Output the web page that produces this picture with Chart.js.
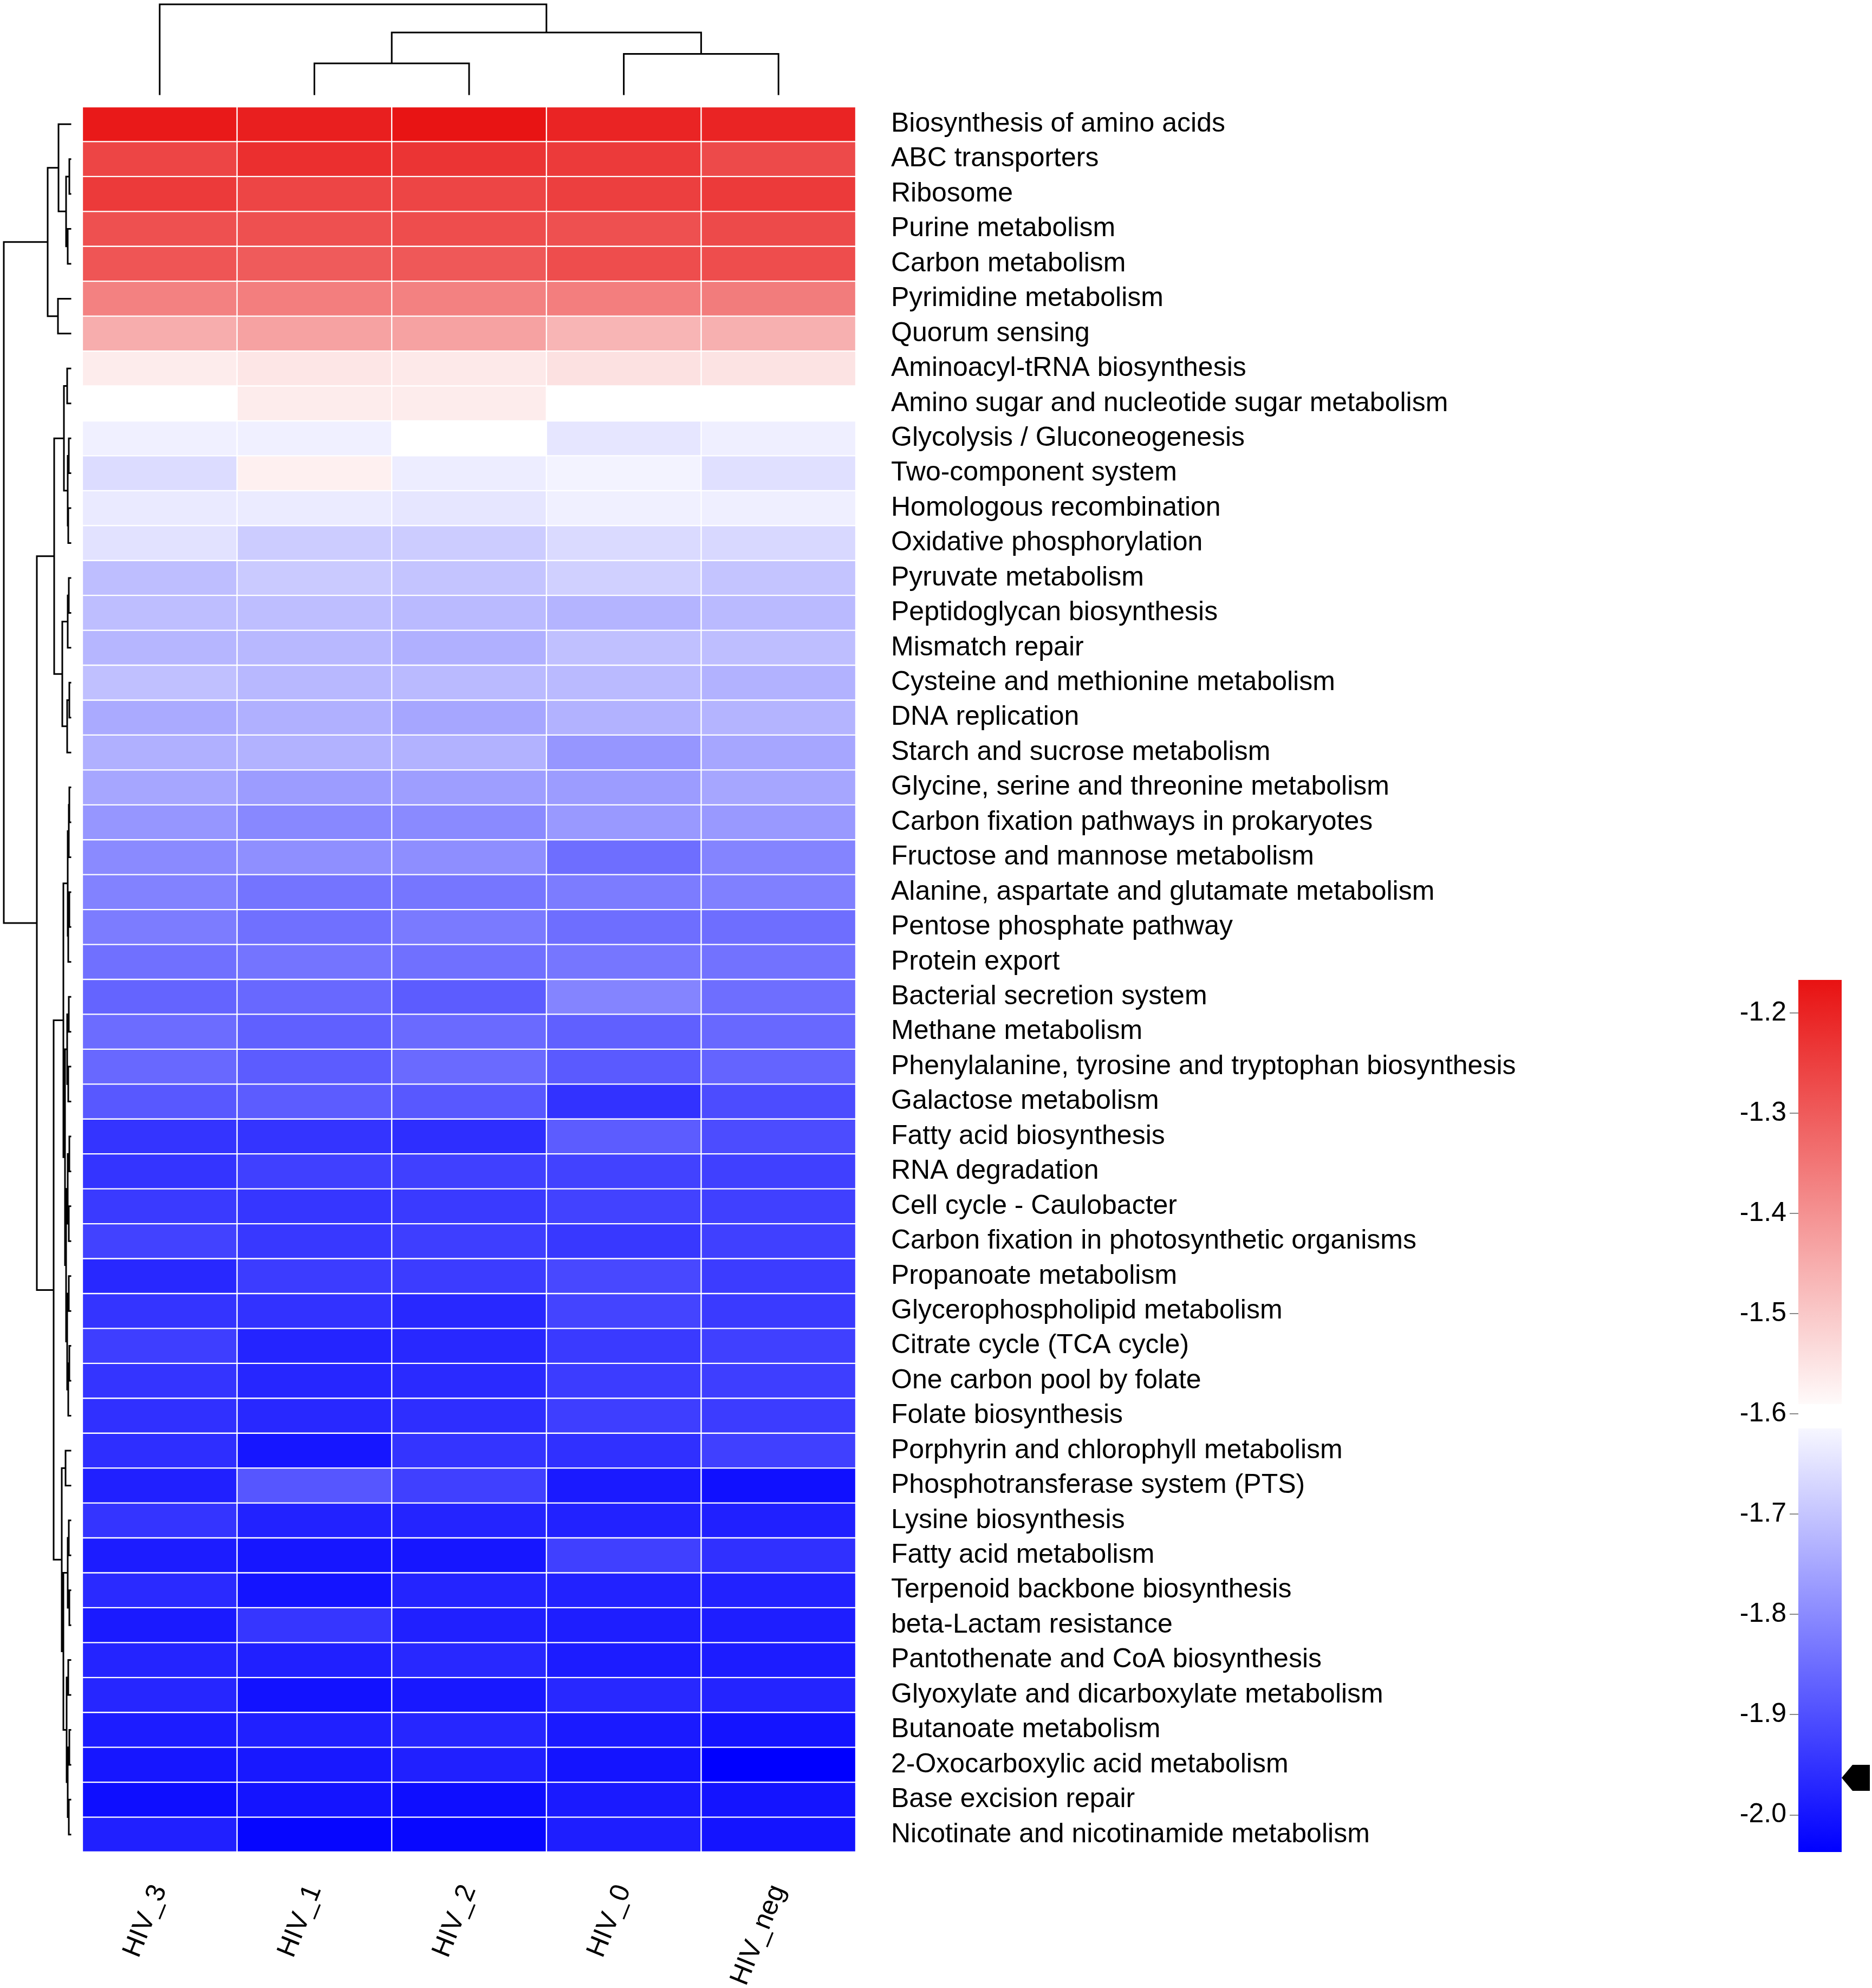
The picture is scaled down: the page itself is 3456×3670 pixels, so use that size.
<!DOCTYPE html>
<html>
<head>
<meta charset="utf-8">
<script src="https://cdn.jsdelivr.net/npm/chart.js@4.4.1/dist/chart.umd.min.js"></script>
<style>
  html, body { margin: 0; padding: 0; background: #fff; }
  #page { position: relative; width: 3456px; height: 3670px; background: #fff; }
  #heat { position: absolute; left: 0; top: 0; width: 3100px; height: 3670px; }
  #bar { position: absolute; left: 3150px; top: 1700px; width: 306px; height: 1770px; }
</style>
</head>
<body>
<div id="page">
  <canvas id="heat" width="3100" height="3670"></canvas>
  <canvas id="bar" width="306" height="1770"></canvas>
</div>
<script>
// rows (top to bottom) and columns (left to right), in dendrogram order
const pathways = [
	"Biosynthesis of amino acids", "ABC transporters", "Ribosome", "Purine metabolism",
	"Carbon metabolism", "Pyrimidine metabolism", "Quorum sensing", "Aminoacyl-tRNA biosynthesis",
	"Amino sugar and nucleotide sugar metabolism", "Glycolysis / Gluconeogenesis", "Two-component system",
	"Homologous recombination", "Oxidative phosphorylation", "Pyruvate metabolism", "Peptidoglycan biosynthesis",
	"Mismatch repair", "Cysteine and methionine metabolism", "DNA replication", "Starch and sucrose metabolism",
	"Glycine, serine and threonine metabolism", "Carbon fixation pathways in prokaryotes",
	"Fructose and mannose metabolism", "Alanine, aspartate and glutamate metabolism", "Pentose phosphate pathway",
	"Protein export", "Bacterial secretion system", "Methane metabolism",
	"Phenylalanine, tyrosine and tryptophan biosynthesis", "Galactose metabolism", "Fatty acid biosynthesis",
	"RNA degradation", "Cell cycle - Caulobacter", "Carbon fixation in photosynthetic organisms",
	"Propanoate metabolism", "Glycerophospholipid metabolism", "Citrate cycle (TCA cycle)",
	"One carbon pool by folate", "Folate biosynthesis", "Porphyrin and chlorophyll metabolism",
	"Phosphotransferase system (PTS)", "Lysine biosynthesis", "Fatty acid metabolism",
	"Terpenoid backbone biosynthesis", "beta-Lactam resistance", "Pantothenate and CoA biosynthesis",
	"Glyoxylate and dicarboxylate metabolism", "Butanoate metabolism", "2-Oxocarboxylic acid metabolism",
	"Base excision repair", "Nicotinate and nicotinamide metabolism"
];
const samples = ["HIV_3", "HIV_1", "HIV_2", "HIV_0", "HIV_neg"];

// cell values per sample, one per pathway
const hiv3 = [-1.18, -1.26, -1.24, -1.28, -1.29, -1.37, -1.45, -1.565, -1.60, -1.625,
	-1.66, -1.636, -1.65, -1.711, -1.711, -1.725, -1.708, -1.746, -1.735, -1.752,
	-1.78, -1.80, -1.814, -1.825, -1.845, -1.866, -1.852, -1.859, -1.886, -1.948,
	-1.948, -1.938, -1.924, -1.968, -1.948, -1.930, -1.948, -1.955, -1.958, -1.982,
	-1.948, -1.989, -1.965, -1.992, -1.975, -1.972, -1.989, -1.999, -2.013, -1.982];
const hiv1 = [-1.19, -1.22, -1.26, -1.28, -1.30, -1.365, -1.43, -1.555, -1.565, -1.625,
	-1.573, -1.635, -1.687, -1.691, -1.711, -1.722, -1.722, -1.735, -1.732, -1.77,
	-1.804, -1.792, -1.838, -1.845, -1.838, -1.859, -1.873, -1.879, -1.879, -1.948,
	-1.927, -1.944, -1.941, -1.934, -1.951, -1.975, -1.972, -1.968, -1.999, -1.890,
	-1.979, -1.999, -2.003, -1.944, -1.982, -2.006, -1.982, -1.996, -2.003, -2.027];
const hiv2 = [-1.17, -1.23, -1.26, -1.275, -1.295, -1.37, -1.43, -1.56, -1.565, -1.60,
	-1.63, -1.643, -1.687, -1.701, -1.718, -1.735, -1.718, -1.752, -1.732, -1.766,
	-1.80, -1.794, -1.835, -1.828, -1.845, -1.879, -1.855, -1.855, -1.886, -1.958,
	-1.927, -1.938, -1.930, -1.934, -1.968, -1.968, -1.965, -1.958, -1.948, -1.927,
	-1.975, -1.999, -1.975, -1.982, -1.968, -1.996, -1.972, -1.982, -2.013, -2.023];
const hiv0 = [-1.20, -1.24, -1.25, -1.28, -1.275, -1.365, -1.465, -1.545, -1.60, -1.643,
	-1.62, -1.626, -1.663, -1.681, -1.728, -1.708, -1.718, -1.732, -1.78, -1.77,
	-1.775, -1.849, -1.825, -1.849, -1.835, -1.811, -1.873, -1.883, -1.951, -1.879,
	-1.924, -1.924, -1.941, -1.914, -1.920, -1.938, -1.934, -1.930, -1.955, -1.992,
	-1.979, -1.927, -1.979, -1.986, -1.989, -1.968, -1.992, -2.003, -1.992, -1.986];
const hivNeg = [-1.20, -1.27, -1.24, -1.27, -1.275, -1.36, -1.455, -1.548, -1.60, -1.627,
	-1.653, -1.628, -1.667, -1.701, -1.718, -1.711, -1.732, -1.728, -1.752, -1.752,
	-1.775, -1.811, -1.818, -1.849, -1.842, -1.849, -1.859, -1.866, -1.907, -1.907,
	-1.927, -1.927, -1.927, -1.934, -1.938, -1.927, -1.930, -1.934, -1.927, -2.010,
	-1.982, -1.955, -1.979, -1.986, -1.989, -1.975, -2.003, -2.037, -2.003, -2.003];
const sampleValues = [hiv3, hiv1, hiv2, hiv0, hivNeg];

// colour scale
const scaleMin = -2.037;
const scaleMid = -1.6;
const scaleMax = -1.167;
const scaleTicks = [-1.2, -1.3, -1.4, -1.5, -1.6, -1.7, -1.8, -1.9, -2.0];
const scaleGap = [-1.6146, -1.590];
const scaleMarker = -1.963;

// dendrograms: [height, left, right], leaves are row / column indices
const colTree = [166, 0, [114, [57, 1, 2], [74.5, 3, 4]]];
const rowTree = [123,
	[42, [22, 0, [8, [2, 1, 2], [5, 3, 4]]], [23, 5, 6]],
	[62,
		[30,
			[12, [6, 7, 8], [5, [3, 9, 10], [4, 11, 12]]],
			[15, [5, [3, 13, 14], 15], [6, [2, 16, 17], 18]]],
		[31,
			[13,
				[5, [3, [2, 19, 20], 21], [4, [2, 22, 23], 24]],
				[10, [6, [3, 25, 26], [4, 27, 28]],
					[8, [5, [2, 29, 30], [3, 31, 32]], [6, [3, 33, 34], [4, [2, 35, 36], 37]]]]],
			[16, [9, 38, 39],
				[13, [5, [3, 40, 41], [2, 42, 43]], [7, [4, 44, 45], [5, [2, 46, 47], [3, 48, 49]]]]]]]];

const FONT = "'Liberation Sans', Arial, Helvetica, sans-serif";
const RED = [232, 18, 18];

const colorFor = (v) => {
	if (v <= scaleMid) {
		const t = Math.max(0, Math.min(1, (v - scaleMin) / (scaleMid - scaleMin)));
		const c = Math.round(255 * t);
		return `rgb(${c},${c},255)`;
	}
	const s = Math.max(0, Math.min(1, (v - scaleMid) / (scaleMax - scaleMid)));
	const r = Math.round(255 + (RED[0] - 255) * s);
	const g = Math.round(255 + (RED[1] - 255) * s);
	return `rgb(${r},${g},${g})`;
};

// collect the elbow segments of a tree as [pos0, h0, pos1, h1]
function treeSegments(node, leafPos, out) {
	if (typeof node === "number") return { pos: leafPos(node), h: 0 };
	const a = treeSegments(node[1], leafPos, out);
	const b = treeSegments(node[2], leafPos, out);
	const h = node[0];
	out.push([a.pos, a.h, a.pos, h], [a.pos, h, b.pos, h], [b.pos, h, b.pos, b.h]);
	return { pos: (a.pos + b.pos) / 2, h };
}

const dendroPlugin = {
	id: "dendro",
	afterDraw(chart) {
		const { ctx, chartArea, scales } = chart;
		ctx.save();
		ctx.strokeStyle = "#000";
		ctx.lineWidth = 3;
		ctx.lineCap = "square";

		// row dendrogram, left of the heatmap
		const rowLeaf = chartArea.left - 22;
		const rowRoot = 7;
		const rowX = (h) => rowLeaf - (h / rowTree[0]) * (rowLeaf - rowRoot);
		const rowSegs = [];
		treeSegments(rowTree, (i) => scales.y.getPixelForValue(i), rowSegs);
		ctx.beginPath();
		rowSegs.forEach(([p0, h0, p1, h1]) => {
			ctx.moveTo(rowX(h0), p0);
			ctx.lineTo(rowX(h1), p1);
		});
		ctx.stroke();

		// column dendrogram, above the heatmap
		const colLeaf = chartArea.top - 23;
		const colRoot = 8;
		const colY = (h) => colLeaf - (h / colTree[0]) * (colLeaf - colRoot);
		const colSegs = [];
		treeSegments(colTree, (j) => scales.x.getPixelForValue(j + 0.5), colSegs);
		ctx.beginPath();
		colSegs.forEach(([p0, h0, p1, h1]) => {
			ctx.moveTo(p0, colY(h0));
			ctx.lineTo(p1, colY(h1));
		});
		ctx.stroke();
		ctx.restore();
	},
};

new Chart(document.getElementById("heat"), {
	type: "bar",
	data: {
		labels: pathways,
		datasets: samples.map((name, j) => ({
			label: name,
			data: pathways.map(() => 1),
			backgroundColor: sampleValues[j].map(colorFor),
			borderColor: "#ffffff",
			borderWidth: 1.5,
			borderSkipped: false,
			barPercentage: 1,
			categoryPercentage: 1,
		})),
	},
	options: {
		indexAxis: "y",
		responsive: false,
		animation: false,
		devicePixelRatio: 1,
		layout: { padding: { left: 152, top: 197, right: 0, bottom: 0 } },
		plugins: { legend: { display: false }, tooltip: { enabled: false } },
		scales: {
			x: {
				type: "linear",
				stacked: true,
				min: 0,
				max: samples.length,
				grid: { display: false, drawTicks: false },
				border: { display: false },
				afterBuildTicks: (scale) => {
					scale.ticks = samples.map((s, j) => ({ value: j + 0.5 }));
				},
				afterFit: (scale) => {
					scale.height = 251;
				},
				ticks: {
					autoSkip: false,
					minRotation: 68,
					maxRotation: 68,
					padding: 52,
					color: "#000",
					font: { family: FONT, size: 50 },
					callback: (v) => samples[Math.floor(v)],
				},
			},
			y: {
				position: "right",
				stacked: true,
				grid: { display: false, drawTicks: false },
				border: { display: false },
				afterFit: (scale) => {
					scale.width = 1520;
				},
				ticks: {
					autoSkip: false,
					padding: 65,
					color: "#000",
					font: { family: FONT, size: 50 },
				},
			},
		},
	},
	plugins: [dendroPlugin],
});

// colour bar
const gradientFill = (ctx, from, to, c0, c1) => {
	const { chart } = ctx;
	const y = chart.scales.y;
	if (!chart.chartArea) return c1;
	const g = chart.ctx.createLinearGradient(0, y.getPixelForValue(from), 0, y.getPixelForValue(to));
	g.addColorStop(0, c0);
	g.addColorStop(1, c1);
	return g;
};

const markerPlugin = {
	id: "marker",
	afterDraw(chart) {
		const { ctx, chartArea, scales } = chart;
		const y = scales.y.getPixelForValue(scaleMarker);
		const x = chartArea.right;
		ctx.save();
		ctx.fillStyle = "#000";
		ctx.beginPath();
		ctx.moveTo(x, y);
		ctx.lineTo(x + 20, y - 24);
		ctx.lineTo(x + 52, y - 24);
		ctx.lineTo(x + 52, y + 24);
		ctx.lineTo(x + 20, y + 24);
		ctx.closePath();
		ctx.fill();
		ctx.restore();
	},
};

new Chart(document.getElementById("bar"), {
	type: "bar",
	data: {
		labels: [""],
		datasets: [
			{
				data: [[scaleMin, scaleGap[0]]],
				backgroundColor: (ctx) => gradientFill(ctx, scaleMin, scaleMid, colorFor(scaleMin), colorFor(scaleMid)),
				grouped: false,
				barPercentage: 1,
				categoryPercentage: 1,
			},
			{
				data: [[scaleGap[1], scaleMax]],
				backgroundColor: (ctx) => gradientFill(ctx, scaleMid, scaleMax, colorFor(scaleMid), colorFor(scaleMax)),
				grouped: false,
				barPercentage: 1,
				categoryPercentage: 1,
			},
		],
	},
	options: {
		responsive: false,
		animation: false,
		devicePixelRatio: 1,
		layout: { padding: { left: 0, top: 109, right: 56, bottom: 51 } },
		plugins: { legend: { display: false }, tooltip: { enabled: false } },
		scales: {
			x: { display: false },
			y: {
				position: "left",
				min: scaleMin,
				max: scaleMax,
				afterBuildTicks: (scale) => {
					scale.ticks = scaleTicks.map((v) => ({ value: v }));
				},
				afterFit: (scale) => {
					scale.width = 170;
				},
				grid: { drawOnChartArea: false, drawTicks: true, tickLength: 16, color: "#888", lineWidth: 2 },
				border: { display: false },
				ticks: {
					padding: 6,
					color: "#000",
					font: { family: FONT, size: 50 },
					callback: (v) => Number(v).toFixed(1),
				},
			},
		},
	},
	plugins: [markerPlugin],
});
</script>
</body>
</html>
